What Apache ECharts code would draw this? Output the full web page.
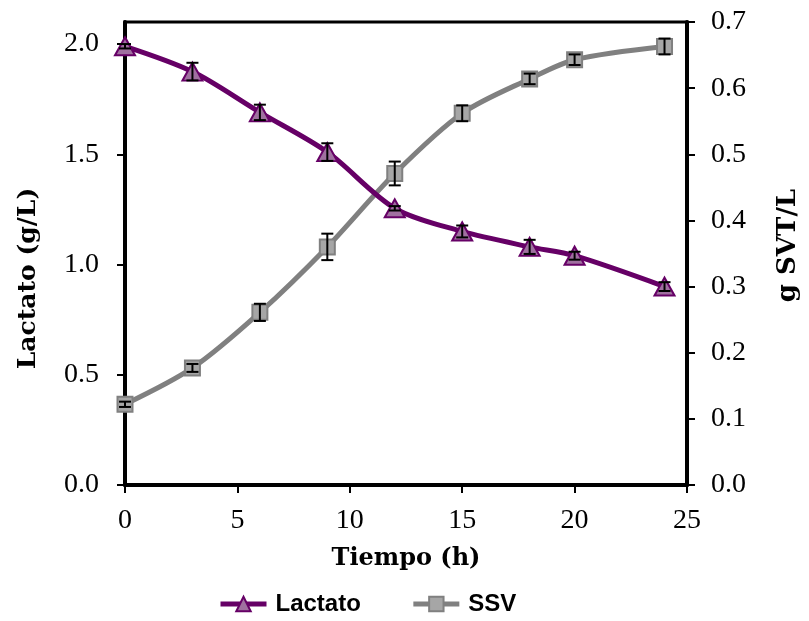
<!DOCTYPE html>
<html>
<head>
<meta charset="utf-8">
<script src="https://cdn.jsdelivr.net/npm/echarts@6/dist/echarts.min.js"></script>
<style>
  html, body { margin: 0; padding: 0; background: #fff; }
  #box { width: 809px; height: 621px; }
</style>
</head>
<body>
<div id="box"></div>
<script>
var tiempo = [0, 3, 6, 9, 12, 15, 18, 20, 24]
var lactato = [1.99, 1.875, 1.69, 1.51, 1.255, 1.15, 1.08, 1.04, 0.90]
var lactatoErr = [0.01, 0.04, 0.035, 0.04, 0.01, 0.027, 0.032, 0.018, 0.02]
var ssv = [0.122, 0.177, 0.261, 0.360, 0.471, 0.562, 0.614, 0.643, 0.663]
var ssvErr = [0.004, 0.006, 0.013, 0.02, 0.018, 0.012, 0.008, 0.008, 0.012]
var xTicks = [0, 5, 10, 15, 20, 25]
var leftTicks = [0, 0.5, 1, 1.5, 2]

function pairs(ys) {
    return tiempo.map(function (t, i) { return [t, ys[i]] })
}
function errRows(ys, es) {
    return tiempo.map(function (t, i) { return [t, ys[i] - es[i], ys[i] + es[i]] })
}
function renderErr(params, api) {
    var lo = api.coord([api.value(0), api.value(1)])
    var hi = api.coord([api.value(0), api.value(2)])
    var w = 6
    var st = { stroke: '#000', lineWidth: 2 }
    return {
        type: 'group',
        children: [
            { type: 'line', shape: { x1: lo[0], y1: lo[1], x2: hi[0], y2: hi[1] }, style: st },
            { type: 'line', shape: { x1: lo[0] - w, y1: lo[1], x2: lo[0] + w, y2: lo[1] }, style: st },
            { type: 'line', shape: { x1: hi[0] - w, y1: hi[1], x2: hi[0] + w, y2: hi[1] }, style: st }
        ]
    }
}

var serif = 'Liberation Serif'
var chart = echarts.init(document.getElementById('box'))

chart.setOption({
    animation: false,
    grid: {
        left: 125,
        right: 118,
        top: 22,
        bottom: 136,
        show: true,
        borderColor: '#000',
        borderWidth: 3
    },
    legend: {
        bottom: 0,
        left: 213,
        itemWidth: 46,
        itemHeight: 18,
        itemGap: 50,
        data: ['Lactato', 'SSV'],
        lineStyle: { width: 5 },
        textStyle: {
            fontFamily: 'Liberation Sans Narrow, Liberation Sans',
            fontWeight: 'bold',
            fontSize: 24,
            color: '#000',
            padding: [0, 0, 0, 4]
        }
    },
    xAxis: {
        type: 'value',
        min: 0,
        max: 25,
        interval: 5,
        name: 'Tiempo (h)',
        nameLocation: 'middle',
        nameGap: 62,
        nameTextStyle: { fontFamily: 'DejaVu Serif', fontWeight: 'bold', fontSize: 24, color: '#000' },
        axisLine: { lineStyle: { color: '#000', width: 4 } },
        axisTick: { length: 8, lineStyle: { color: '#000', width: 2 } },
        axisLabel: {
            fontFamily: serif, fontSize: 28, color: '#000', margin: 22,
            customValues: xTicks
        },
        splitLine: { show: false }
    },
    yAxis: [{
        type: 'value',
        min: 0,
        max: 2.1,
        interval: 0.5,
        name: 'Lactato (g/L)',
        nameLocation: 'middle',
        nameGap: 84,
        nameRotate: 90,
        nameTextStyle: {
            fontFamily: 'DejaVu Serif', fontWeight: 'bold', fontSize: 25, color: '#000',
            padding: [0, 50, 0, 0]
        },
        axisLine: { show: true, lineStyle: { color: '#000', width: 4 } },
        axisTick: { show: true, length: 8, lineStyle: { color: '#000', width: 2 }, customValues: leftTicks },
        axisLabel: {
            fontFamily: serif, fontSize: 28, color: '#000', margin: 26,
            customValues: leftTicks,
            formatter: function (v) { return v.toFixed(1) }
        },
        splitLine: { show: false }
    }, {
        type: 'value',
        min: 0,
        max: 0.7,
        interval: 0.1,
        position: 'right',
        name: 'g SVT/L',
        nameLocation: 'middle',
        nameGap: 88,
        nameRotate: 90,
        nameTextStyle: {
            fontFamily: 'DejaVu Serif', fontWeight: 'bold', fontSize: 26, color: '#000',
            padding: [0, 0, 0, 16]
        },
        axisLine: { show: true, lineStyle: { color: '#000', width: 4 } },
        axisTick: { show: true, length: 8, lineStyle: { color: '#000', width: 2 } },
        axisLabel: {
            fontFamily: serif, fontSize: 28, color: '#000', margin: 24,
            formatter: function (v) { return v.toFixed(1) }
        },
        splitLine: { show: false }
    }],
    series: [{
        name: 'Lactato',
        type: 'line',
        yAxisIndex: 0,
        data: pairs(lactato),
        smooth: 0.3,
        symbol: 'triangle',
        symbolSize: [20, 18],
        lineStyle: { color: '#660066', width: 5 },
        itemStyle: { color: '#a070a0', borderColor: '#660066', borderWidth: 2 },
        z: 3
    }, {
        name: 'SSV',
        type: 'line',
        yAxisIndex: 1,
        data: pairs(ssv),
        smooth: 0.3,
        symbol: 'rect',
        symbolSize: 15,
        lineStyle: { color: '#808080', width: 5 },
        itemStyle: { color: '#a6a6a6', borderColor: '#808080', borderWidth: 2 },
        z: 2
    }, {
        type: 'custom',
        yAxisIndex: 0,
        data: errRows(lactato, lactatoErr),
        renderItem: renderErr,
        z: 4
    }, {
        type: 'custom',
        yAxisIndex: 1,
        data: errRows(ssv, ssvErr),
        renderItem: renderErr,
        z: 4
    }]
})
</script>
</body>
</html>
